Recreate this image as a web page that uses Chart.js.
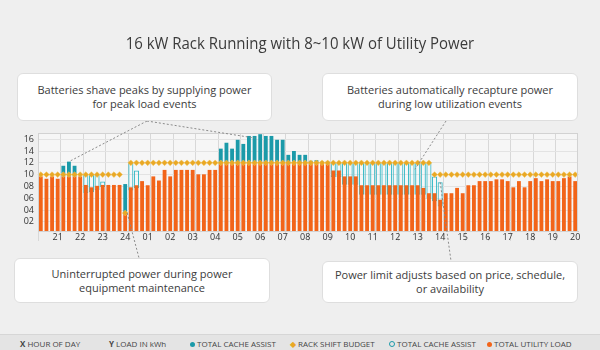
<!DOCTYPE html>
<html>
<head>
<meta charset="utf-8">
<script src="https://cdn.jsdelivr.net/npm/chart.js@4.4.1/dist/chart.umd.min.js"></script>
<style>
  html, body { margin: 0; padding: 0; }
  body { width: 600px; height: 350px; overflow: hidden; background: #efefef; position: relative;
         font-family: "Open Sans", sans-serif; color: #333; }
  #chart { position: absolute; left: 0; top: 0; }
  #title { position: absolute; left: 0; top: 31px; width: 600px; text-align: center;
           font-size: 17px; font-weight: 400; color: #3b3b3b; transform: scaleX(0.88); }
  .note { position: absolute; background: #fff; border: 1px solid #dedede; border-radius: 6px;
          box-sizing: border-box; display: flex; align-items: center; justify-content: center;
          text-align: center; font-size: 11px; line-height: 14px; color: #3c3c3c; }
  #legend { position: absolute; left: 0; top: 334px; width: 600px; height: 16px;
            background: #e4e4e4; border-top: 1px solid #d6d6d6; font-size: 8px; color: #444; }
  #legend span { position: absolute; top: 3px; white-space: nowrap; }
  .dot { display: inline-block; width: 5px; height: 5px; border-radius: 50%; }
</style>
</head>
<body>
<canvas id="chart" width="600" height="350"></canvas>

<div id="title">16 kW Rack Running with 8~10 kW of Utility Power</div>
<div class="note" style="left:17px; top:73px; width:255px; height:48px;">Batteries shave peaks by supplying power<br>for peak load events</div>
<div class="note" style="left:322px; top:73px; width:256px; height:48px;">Batteries automatically recapture power<br>during low utilization events</div>
<div class="note" style="left:14px; top:258px; width:256px; height:45px;">Uninterrupted power during power<br>equipment maintenance</div>
<div class="note" style="left:322px; top:261px; width:256px; height:42px;">Power limit adjusts based on price, schedule,<br>or availability</div>

<div id="legend">
  <span style="left:20px;"><b>X</b> HOUR OF DAY</span>
  <span style="left:109px;"><b>Y</b> LOAD IN kWh</span>
  <span style="left:190px;"><i class="dot" style="background:#1b9aa9"></i> TOTAL CACHE ASSIST</span>
  <span style="left:290px;"><span style="position:static;color:#e9a825">&#9670;</span> RACK SHIFT BUDGET</span>
  <span style="left:389px;"><i class="dot" style="border:1px solid #1b9aa9;width:4px;height:4px"></i> TOTAL CACHE ASSIST</span>
  <span style="left:487px;"><i class="dot" style="background:#f26419"></i> TOTAL UTILITY LOAD</span>
</div>

<script>
// --- DATA (15 min steps, 21:00 -> 20:00) ---
const hourLabels = ['21','22','23','24','01','02','03','04','05','06','07','08',
                    '09','10','11','12','13','14','15','16','17','18','19','20'];
const yTickLabels = ['02','04','06','08','10','12','14','16'];

const utilityLoad = [
  9.7, 9.3, 9.7, 9.3, 9.7, 9.7, 9.7, 9.7,
  8.25, 7.85, 8.1, 8.25, 8.25, 8.25, 8.25, 3.5,
  7.85, 8.2, 8.9, 8.2, 9.7, 9.0, 10.8, 9.7,
  10.8, 10.8, 10.8, 10.8, 10.05, 10.05, 10.8, 10.8,
  12, 12, 12, 12, 12, 12, 12, 12,
  12, 12, 12, 12, 12, 12, 12, 12,
  12, 12, 12, 12, 10.7, 10.7, 9.7, 9.7,
  9.7, 8.2, 8.2, 8.2, 8.2, 8.2, 8.2, 8.2,
  8.2, 8.2, 8.2, 8.2, 7.75, 6.85, 6.85, 5.75,
  6.85, 6.85, 7.75, 6.85, 8.2, 8.2, 8.9, 8.9,
  8.9, 9.2, 9.2, 8.9, 7.85, 8.9, 7.85, 8.9,
  9.4, 8.9, 9.2, 8.9, 8.9, 9.4, 9.7, 8.9
];

// top of the battery assist stacked on the utility load
const cacheAssistTop = [
  null, null, null, null, 11.5, 12.2, 11.5, null,
  null, null, null, null, null, null, null, 8.4,
  null, null, null, null, null, null, null, null,
  null, null, null, null, null, null, null, null,
  14.4, 15.4, 14.4, 15.9, 15.2, 16.55, 16.55, 16.85,
  16.55, 16.55, 15.9, 15.9, 13.35, 14.0, 13.35, 13.35,
  12.35, 12.45, 12.2, 12.2, null, null, null, null,
  null, null, null, null, null, null, null, null,
  null, null, null, null, null, null, null, null,
  null, null, null, null, null, null, null, null,
  null, null, null, null, null, null, null, null,
  null, null, null, null, null, null, null, null
];

// recapture (outlined) bars: low / high
const recaptureLow = [
  null, null, null, null, null, null, null, null,
  6.9, 7.0, 7.4, 7.9, null, null, null, null,
  7.3, 7.7, null, null, null, null, null, null,
  null, null, null, null, null, null, null, null,
  null, null, null, null, null, null, null, null,
  null, null, null, null, null, null, null, null,
  null, null, null, null, 9.6, 9.6, 8.3, 8.3,
  8.3, 6.6, 6.6, 6.6, 6.6, 6.6, 6.6, 6.6,
  6.6, 6.6, 6.6, 6.6, 6.6, 5.9, 5.5, 4.6,
  null, null, null, null, null, null, null, null,
  null, null, null, null, null, null, null, null,
  null, null, null, null, null, null, null, null
];
const recaptureHigh = [
  null, null, null, null, null, null, null, null,
  10, 10, 10, 8.85, null, null, null, null,
  12, 10.7, null, null, null, null, null, null,
  null, null, null, null, null, null, null, null,
  null, null, null, null, null, null, null, null,
  null, null, null, null, null, null, null, null,
  null, null, null, null, 12, 12, 12, 12,
  12, 12, 12, 12, 12, 12, 12, 12,
  12, 12, 12, 12, 12, 12, 9.7, 8.7,
  null, null, null, null, null, null, null, null,
  null, null, null, null, null, null, null, null,
  null, null, null, null, null, null, null, null
];

const shiftBudget = [
  10, 10, 10, 10, 10, 10, 10, 10,
  10, 10, 10, 10, 10, 10, 10, 3.5,
  12, 12, 12, 12, 12, 12, 12, 12,
  12, 12, 12, 12, 12, 12, 12, 12,
  12, 12, 12, 12, 12, 12, 12, 12,
  12, 12, 12, 12, 12, 12, 12, 12,
  12, 12, 12, 12, 12, 12, 12, 12,
  12, 12, 12, 12, 12, 12, 12, 12,
  12, 12, 12, 12, 12, 12, 10, 10,
  10, 10, 10, 10, 10, 10, 10, 10,
  10, 10, 10, 10, 10, 10, 10, 10,
  10, 10, 10, 10, 10, 10, 10, 10
];

// --- labels: hour text on the last quarter of each hour ---
const xLabels = utilityLoad.map((v, i) => i % 4 === 3 ? hourLabels[(i - 3) / 4] : '');
const assistData = cacheAssistTop.map((t, i) => t == null ? null : [utilityLoad[i], t]);
const recaptureData = recaptureHigh.map((h, i) => h == null ? null : [recaptureLow[i], h]);

// --- plugins ---
const plotBg = {
  id: 'plotBg',
  beforeDraw(chart) {
    const { ctx, chartArea: a } = chart;
    ctx.save();
    ctx.fillStyle = '#f6f6f6';
    ctx.fillRect(a.left, a.top, a.right - a.left, a.bottom - a.top);
    ctx.restore();
  },
  afterDraw(chart) {
    const { ctx, chartArea: a } = chart;
    ctx.save();
    ctx.strokeStyle = '#d2d2d2';
    ctx.lineWidth = 1;
    ctx.strokeRect(a.left + 0.5, a.top + 0.5, a.right - a.left - 1, a.bottom - a.top);
    ctx.restore();
  }
};

const leaders = {
  id: 'leaders',
  afterDraw(chart) {
    const x = chart.scales.x, y = chart.scales.y, ctx = chart.ctx;
    const lines = [
      [147, 121, x.getPixelForValue(5), y.getPixelForValue(cacheAssistTop[5])],
      [147, 121, x.getPixelForValue(38), y.getPixelForValue(16.2)],
      [446, 121, x.getPixelForValue(66.5), y.getPixelForValue(10.9)],
      [x.getPixelForValue(71), y.getPixelForValue(recaptureHigh[71]), 451, 261],
      [x.getPixelForValue(15) + 2, y.getPixelForValue(shiftBudget[15]), 139, 258]
    ];
    ctx.save();
    ctx.strokeStyle = '#8a8a8a';
    ctx.lineWidth = 1;
    ctx.setLineDash([2, 2]);
    lines.forEach(l => {
      ctx.beginPath();
      ctx.moveTo(l[0], l[1]);
      ctx.lineTo(l[2], l[3]);
      ctx.stroke();
    });
    ctx.restore();
  }
};

new Chart(document.getElementById('chart'), {
  data: {
    labels: xLabels,
    datasets: [
      {
        type: 'line', label: 'RACK SHIFT BUDGET', data: shiftBudget, order: 0,
        showLine: false, pointStyle: 'rectRot', pointRadius: 2.9,
        pointBackgroundColor: '#e9a825', pointBorderColor: '#f3c45a', pointBorderWidth: 0.5
      },
      {
        type: 'bar', label: 'TOTAL UTILITY LOAD', data: utilityLoad, order: 1, grouped: false,
        backgroundColor: '#f26419', categoryPercentage: 1, barPercentage: 0.68
      },
      {
        type: 'bar', label: 'TOTAL CACHE ASSIST', data: assistData, order: 2, grouped: false,
        backgroundColor: '#1b9aa9', categoryPercentage: 1, barPercentage: 0.68
      },
      {
        type: 'bar', label: 'TOTAL CACHE ASSIST (recapture)', data: recaptureData, order: 3, grouped: false,
        backgroundColor: 'rgba(0,0,0,0)', borderColor: '#33b8c5', borderWidth: 1,
        borderSkipped: false, categoryPercentage: 1, barPercentage: 0.9
      }
    ]
  },
  options: {
    responsive: false,
    animation: false,
    devicePixelRatio: 1,
    layout: { padding: { top: 133, right: 22, left: 0, bottom: 0 } },
    plugins: { legend: { display: false }, tooltip: { enabled: false } },
    scales: {
      x: {
        afterFit: s => { s.height = 119; },
        grid: {
          offset: true, tickLength: 10,
          color: c => c.index % 4 === 0 ? '#d8d8d8' : 'rgba(0,0,0,0)'
        },
        border: { color: '#c8c8c8' },
        ticks: {
          autoSkip: false, maxRotation: 0, padding: -8.5,
          color: '#333', font: { family: 'Open Sans', size: 9 }
        }
      },
      y: {
        min: 0.45, max: 17.05,
        afterFit: s => { s.width = 38; },
        afterBuildTicks: s => { s.ticks = yTickLabels.map(t => ({ value: Number(t) })); },
        grid: { drawTicks: false, color: '#e3e3e3' },
        border: { color: '#d2d2d2' },
        ticks: {
          autoSkip: false, padding: 4, color: '#333', font: { family: 'Open Sans', size: 9 },
          callback: v => yTickLabels[v / 2 - 1]
        }
      }
    }
  },
  plugins: [plotBg, leaders]
});
</script>
</body>
</html>
